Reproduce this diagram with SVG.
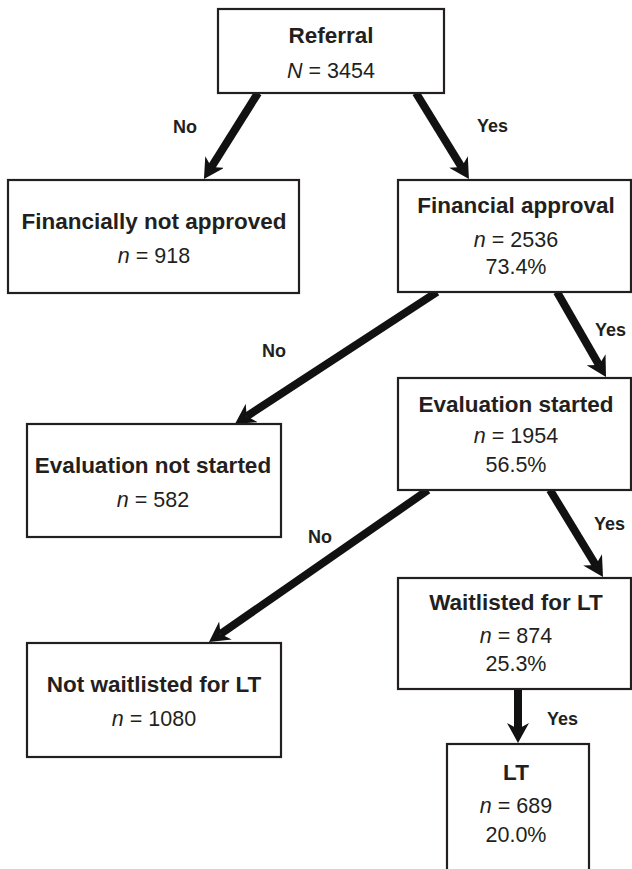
<svg xmlns="http://www.w3.org/2000/svg" width="632" height="869" viewBox="0 0 632 869">
<style>
.box{fill:#fff;stroke:#231f20;stroke-width:2.2}
.t{font-family:"Liberation Sans",Arial,sans-serif;fill:#231f20;text-anchor:middle}
.b{font-weight:bold;font-size:22.5px}
.r{font-size:21.5px}
.lab{font-family:"Liberation Sans",Arial,sans-serif;fill:#231f20;font-weight:bold;font-size:18px}
.arr{stroke:#111;stroke-width:8;fill:none;marker-end:url(#ah)}
</style>
<defs>
<marker id="ah" markerUnits="userSpaceOnUse" viewBox="0 0 20 22" refX="6" refY="11" markerWidth="20" markerHeight="22" orient="auto">
<path d="M0,0 L20,11 L0,22 L6,11 z" fill="#111"/>
</marker>
</defs>
<rect width="632" height="869" fill="#fff"/>
<g id="connectors">
<line class="arr" x1="258" y1="93" x2="211.4" y2="167.1"/>
<line class="arr" x1="416" y1="93" x2="461.6" y2="167.1"/>
<line class="arr" x1="437" y1="292" x2="246.7" y2="416.3"/>
<line class="arr" x1="557" y1="292" x2="599" y2="364.9"/>
<line class="arr" x1="428" y1="490" x2="220.5" y2="634"/>
<line class="arr" x1="550" y1="490" x2="595.7" y2="565"/>
<line class="arr" x1="518" y1="689" x2="518" y2="729"/>
<text class="lab" x="173" y="133">No</text>
<text class="lab" x="477" y="132">Yes</text>
<text class="lab" x="262" y="357">No</text>
<text class="lab" x="595" y="336">Yes</text>
<text class="lab" x="308" y="543">No</text>
<text class="lab" x="594" y="530">Yes</text>
<text class="lab" x="547" y="725">Yes</text>
</g>
<g id="referral">
<rect class="box" x="218" y="9" width="226" height="84"/>
<text class="t b" x="331" y="43">Referral</text>
<text class="t r" x="331" y="78"><tspan font-style="italic">N</tspan> = 3454</text>
</g>
<g id="fin-not-approved">
<rect class="box" x="8" y="180" width="291" height="113"/>
<text class="t b" x="154" y="229">Financially not approved</text>
<text class="t r" x="154" y="263"><tspan font-style="italic">n</tspan> = 918</text>
</g>
<g id="fin-approval">
<rect class="box" x="398" y="180" width="233" height="112"/>
<text class="t b" x="516" y="213">Financial approval</text>
<text class="t r" x="516" y="247"><tspan font-style="italic">n</tspan> = 2536</text>
<text class="t r" x="516" y="274">73.4%</text>
</g>
<g id="eval-not-started">
<rect class="box" x="27" y="424" width="254" height="113"/>
<text class="t b" x="153" y="473">Evaluation not started</text>
<text class="t r" x="153" y="507"><tspan font-style="italic">n</tspan> = 582</text>
</g>
<g id="eval-started">
<rect class="box" x="398" y="378" width="233" height="112"/>
<text class="t b" x="516" y="412">Evaluation started</text>
<text class="t r" x="516" y="443"><tspan font-style="italic">n</tspan> = 1954</text>
<text class="t r" x="516" y="472">56.5%</text>
</g>
<g id="not-waitlisted">
<rect class="box" x="27" y="643" width="254" height="114"/>
<text class="t b" x="154" y="692">Not waitlisted for LT</text>
<text class="t r" x="154" y="726"><tspan font-style="italic">n</tspan> = 1080</text>
</g>
<g id="waitlisted">
<rect class="box" x="398" y="578" width="233" height="111"/>
<text class="t b" x="516" y="610">Waitlisted for LT</text>
<text class="t r" x="516" y="643"><tspan font-style="italic">n</tspan> = 874</text>
<text class="t r" x="516" y="671">25.3%</text>
</g>
<g id="lt">
<rect class="box" x="447" y="744" width="142" height="135"/>
<text class="t b" x="516" y="780">LT</text>
<text class="t r" x="516" y="813"><tspan font-style="italic">n</tspan> = 689</text>
<text class="t r" x="516" y="842">20.0%</text>
</g>
</svg>
